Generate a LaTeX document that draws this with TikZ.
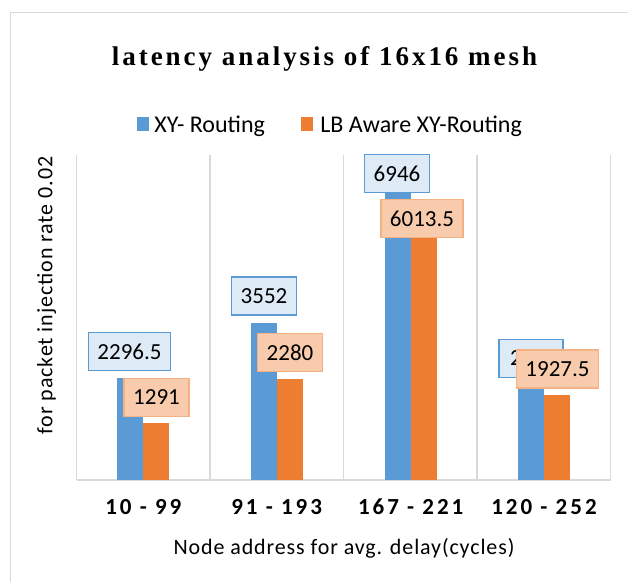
\documentclass[tikz,border=0pt]{standalone}
\usepackage{fontspec}
\setmainfont{Carlito}
\newfontfamily\titlefont[LetterSpace=11]{Liberation Serif}
\newfontfamily\catfont[LetterSpace=13]{Carlito}
\newfontfamily\axfont[LetterSpace=4]{Carlito}
\usetikzlibrary{positioning}
\definecolor{xyblue}{HTML}{5B9BD5}
\definecolor{lborange}{HTML}{ED7D31}
\definecolor{bluelab}{HTML}{DEEBF7}
\definecolor{orangelab}{HTML}{F8CBAD}
\definecolor{orangeedge}{HTML}{F4B183}
\definecolor{gridgray}{HTML}{D9D9D9}
\tikzset{
  vlab/.style={draw=xyblue, fill=bluelab, line width=0.7pt, minimum height=19pt,
    inner xsep=4.5pt, inner ysep=0pt, font=\fontsize{11.5}{12}\selectfont},
  olab/.style={vlab, draw=orangeedge, fill=orangelab},
  cat/.style={anchor=base, font=\catfont\bfseries\fontsize{11.5}{12}\selectfont},
  axtitle/.style={anchor=base, font=\axfont\fontsize{11}{12}\selectfont},
  grid/.style={gridgray, line width=0.8pt}
}
\begin{document}
\begin{tikzpicture}[x=0.5pt, y=-0.5pt]
  \useasboundingbox (0,0) rectangle (628,582);
  \clip (0,0) rectangle (628,582);
  \draw[grid] (10.5,12.5) rectangle (680,640);
  % title
  \node[anchor=base] (title) at (324.5,66)
    {\titlefont\bfseries\fontsize{13.5}{14}\selectfont latency analysis of 16x16 mesh};
  % legend
  \fill[xyblue] (137,117.5) rectangle (149,131.5);
  \node[anchor=base west, inner sep=0pt, font=\fontsize{12}{13}\selectfont] (legxy) at (154,132.5) {XY- Routing};
  \fill[lborange] (301,117.5) rectangle (313,131.5);
  \node[anchor=base west, inner sep=0pt, font=\fontsize{12}{13}\selectfont] (leglb) at (320,132.5) {LB Aware XY-Routing};
  % grid
  \foreach \x in {76.5,210,343.5,477,610.5}
    \draw[grid] (\x,155) -- (\x,480);
  \draw[grid] (76.5,480) -- (610.5,480);
  % bars
  \foreach \c/\a/\b in {143.3/2296.5/1291, 276.7/3552/2280, 410.7/6946/6013.5, 544/2150/1927.5}{
    \fill[xyblue] (\c-26,480) rectangle (\c,{480-\a*0.0442});
    \fill[lborange] (\c,480) rectangle (\c+26,{480-\b*0.0442});
  }
  % value labels
  \node[vlab] (l1a) at (129.5,351.5) {2296.5};
  \node[vlab] (l2a) at (264,296) {3552};
  \node[vlab] (l3a) at (397,173.6) {6946};
  \node[vlab, text width=21pt, inner xsep=5.5pt, align=left] (l4a) at (531,358.3) {2};
  \node[olab] (l1b) at (156.5,397.5) {1291};
  \node[olab] (l2b) at (290,352.7) {2280};
  \node[olab] (l3b) at (422,218.5) {6013.5};
  \node[olab] (l4b) at (557.5,369) {1927.5};
  % categories
  \node[cat] (c1) at (143.3,515) {10 - 99};
  \node[cat] (c2) at (276.7,515) {91 - 193};
  \node[cat] (c3) at (410.7,515) {167 - 221};
  \node[cat] (c4) at (544,515) {120 - 252};
  % axis titles
  \node[axtitle] (xtitle) at (344,555) {Node address for avg. delay(cycles)};
  \node[axtitle, rotate=90] (ytitle) at (52.3,295.5) {for packet injection rate 0.02};
\end{tikzpicture}
\end{document}
